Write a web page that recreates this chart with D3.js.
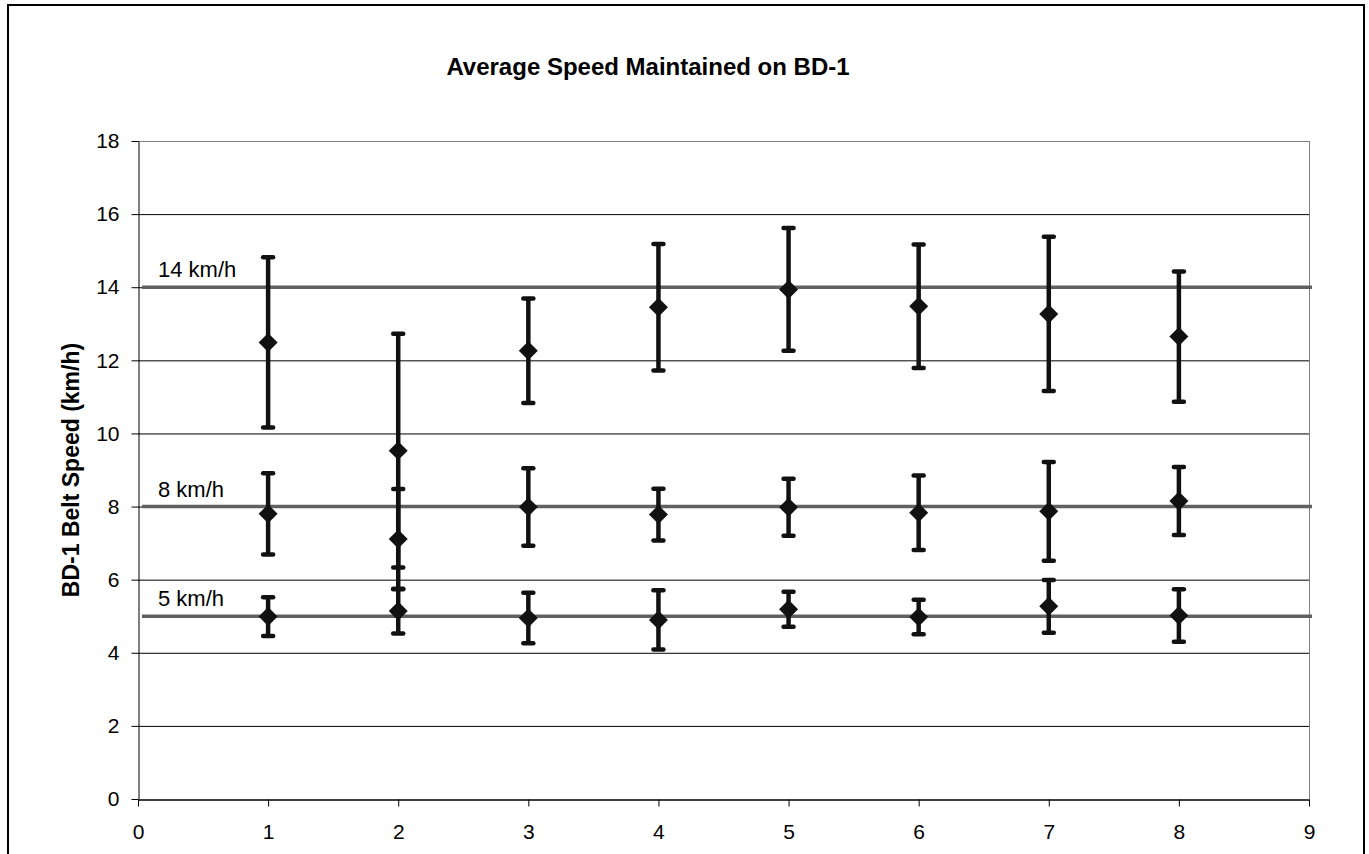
<!DOCTYPE html>
<html>
<head>
<meta charset="utf-8">
<script src="https://cdn.jsdelivr.net/npm/d3@7"></script>
<style>
  body { margin: 0; background: #fff; }
  svg { display: block; font-family: "Liberation Sans", Arial, sans-serif; }
</style>
</head>
<body>
<div class="graphContainer"></div>
<script>
// Trial numbers on the x axis
const trials = [1, 2, 3, 4, 5, 6, 7, 8];

// Mean belt speed and error bar half-length for each target speed
const mean14 = [12.49, 9.53, 12.26, 13.45, 13.94, 13.48, 13.27, 12.65];
const err14 = [2.33, 3.20, 1.43, 1.73, 1.68, 1.69, 2.11, 1.78];
const mean8 = [7.80, 7.11, 7.99, 7.78, 7.98, 7.83, 7.87, 8.15];
const err8 = [1.11, 1.37, 1.06, 0.71, 0.78, 1.02, 1.35, 0.93];
const mean5 = [4.99, 5.14, 4.95, 4.90, 5.19, 4.98, 5.27, 5.02];
const err5 = [0.53, 0.61, 0.69, 0.81, 0.48, 0.47, 0.72, 0.72];

// Target speed reference lines
const targets = [14, 8, 5];
const targetLabels = ["14 km/h", "8 km/h", "5 km/h"];

const xTicks = [0, 1, 2, 3, 4, 5, 6, 7, 8, 9];
const yTicks = [0, 2, 4, 6, 8, 10, 12, 14, 16, 18];

const W = 1369, H = 854;
const margin = { top: 141, right: 60, bottom: 55, left: 138 },
    width = 1309 - margin.left,
    height = 799 - margin.top;

const xScale = d3.scaleLinear().domain([0, 9]).range([0, width]);
const yScale = d3.scaleLinear().domain([0, 18]).range([height, 0]);

const svgRoot = d3.select(".graphContainer")
    .append("svg")
    .attr("width", W)
    .attr("height", H);

// outer chart border (runs off the bottom of the picture)
svgRoot.append("rect")
    .attr("x", 8).attr("y", 5)
    .attr("width", 1356).attr("height", 880)
    .attr("fill", "none")
    .attr("stroke", "#000")
    .attr("stroke-width", 2);

// title
svgRoot.append("text")
    .attr("x", 648)
    .attr("y", 75)
    .attr("text-anchor", "middle")
    .style("font-size", "24px")
    .style("font-weight", "bold")
    .text("Average Speed Maintained on BD-1");

const svg = svgRoot.append("g")
    .attr("transform", "translate(" + margin.left + "," + margin.top + ")");

// horizontal gridlines
svg.append("g")
    .selectAll("line")
    .data(yTicks.filter(d => d > 0))
    .join("line")
    .attr("x1", 0)
    .attr("x2", width)
    .attr("y1", d => yScale(d) + 0.5)
    .attr("y2", d => yScale(d) + 0.5)
    .attr("stroke", d => d === 18 ? "#808080" : "#000")
    .attr("stroke-width", 1);

// right edge of the plot area
svg.append("line")
    .attr("x1", width + 0.5).attr("x2", width + 0.5)
    .attr("y1", 0).attr("y2", height)
    .attr("stroke", "#808080");

// x axis
const xAxis = svg.append("g")
    .attr("transform", "translate(0," + (height + 0.5) + ")")
    .call(d3.axisBottom(xScale).tickValues(xTicks).tickSize(7).tickPadding(18).tickSizeOuter(0));

// y axis
const yAxis = svg.append("g")
    .attr("transform", "translate(0.5,0)")
    .call(d3.axisLeft(yScale).tickValues(yTicks).tickSize(7).tickPadding(12).tickSizeOuter(0));

[xAxis, yAxis].forEach(a => {
    a.selectAll("path, line").attr("stroke", "#000");
    a.selectAll("text")
        .style("font-size", "21px")
        .style("font-family", "'Liberation Sans', Arial, sans-serif")
        .attr("fill", "#000");
});
xAxis.select(".domain").attr("stroke-width", 1.5);

// y axis title
svgRoot.append("text")
    .attr("transform", "translate(79," + (margin.top + height / 2) + ") rotate(-90)")
    .attr("text-anchor", "middle")
    .style("font-size", "23px")
    .style("font-weight", "bold")
    .text("BD-1 Belt Speed (km/h)");

// target reference lines
svg.append("g")
    .selectAll("line")
    .data(targets)
    .join("line")
    .attr("x1", 4)
    .attr("x2", width + 3)
    .attr("y1", d => yScale(d))
    .attr("y2", d => yScale(d))
    .attr("stroke", "#606060")
    .attr("stroke-width", 3.5);

svg.append("g")
    .selectAll("text")
    .data(targets)
    .join("text")
    .attr("x", 20)
    .attr("y", d => yScale(d) - 10)
    .style("font-size", "22px")
    .text((d, i) => targetLabels[i]);

// error bars and mean markers
const series = [
    { mean: mean14, err: err14 },
    { mean: mean8, err: err8 },
    { mean: mean5, err: err5 }
];

const diamond = d3.symbol().type(d3.symbolDiamond2).size(230);

series.forEach(s => {
    const pts = trials.map((t, i) => ({ x: t, y: s.mean[i], e: s.err[i] }));
    const g = svg.append("g");

    g.selectAll(".bar")
        .data(pts)
        .join("line")
        .attr("class", "bar")
        .attr("x1", d => xScale(d.x))
        .attr("x2", d => xScale(d.x))
        .attr("y1", d => yScale(d.y + d.e))
        .attr("y2", d => yScale(d.y - d.e))
        .attr("stroke", "#111")
        .attr("stroke-width", 4.5);

    ["top", "bot"].forEach(side => {
        g.selectAll(".cap-" + side)
            .data(pts)
            .join("line")
            .attr("class", "cap-" + side)
            .attr("x1", d => xScale(d.x) - 5)
            .attr("x2", d => xScale(d.x) + 5)
            .attr("y1", d => yScale(side === "top" ? d.y + d.e : d.y - d.e))
            .attr("y2", d => yScale(side === "top" ? d.y + d.e : d.y - d.e))
            .attr("stroke", "#111")
            .attr("stroke-width", 4.5)
            .attr("stroke-linecap", "round");
    });

    g.selectAll(".mark")
        .data(pts)
        .join("path")
        .attr("class", "mark")
        .attr("transform", d => "translate(" + xScale(d.x) + "," + yScale(d.y) + ")")
        .attr("d", diamond)
        .attr("fill", "#111");
});
</script>
</body>
</html>
